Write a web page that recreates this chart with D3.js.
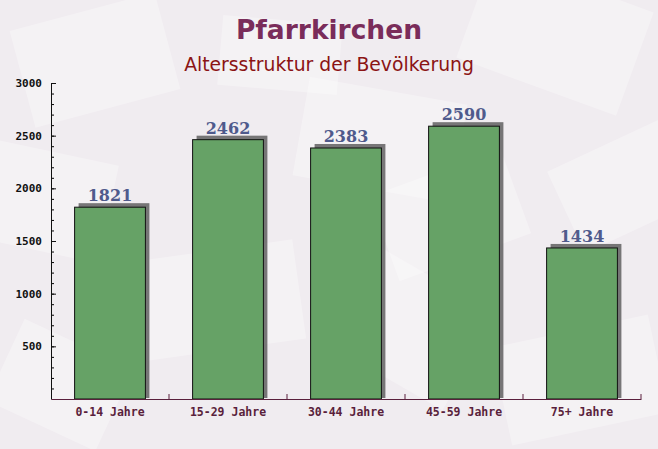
<!DOCTYPE html>
<html>
<head>
<meta charset="utf-8">
<script src="https://cdn.jsdelivr.net/npm/d3@7"></script>
<style>
  body { margin: 0; padding: 0; }
  #chart svg { display: block; }
</style>
</head>
<body>
<div id="chart"></div>
<script>
var width = 658;
var height = 449;

// data
var categories = ["0-14 Jahre", "15-29 Jahre", "30-44 Jahre", "45-59 Jahre", "75+ Jahre"];
var values = [1821, 2462, 2383, 2590, 1434];
var yTicks = [500, 1000, 1500, 2000, 2500, 3000];

var margin = {left: 51, right: 17, top: 83, bottom: 50};

var svg = d3.select('#chart')
  .append("svg")
  .attr("width", width)
  .attr("height", height);

// background
svg.append("rect")
  .attr("width", width)
  .attr("height", height)
  .attr("fill", "#f0ecf0");

// faint envelope-like watermark shapes
var deco = [
  [20, 10, 150, 100, -15], [470, -20, 170, 110, 20], [300, 90, 160, 100, 10],
  [560, 140, 130, 90, -25], [-30, 150, 140, 100, 12], [140, 250, 160, 100, -8],
  [330, 270, 150, 110, 30], [500, 330, 160, 100, -12], [0, 340, 120, 90, 25],
  [220, 20, 120, 70, 5], [380, 170, 140, 90, -20]
];
svg.append("g").selectAll("rect")
  .data(deco)
  .enter().append("rect")
  .attr("x", function(d) { return d[0]; })
  .attr("y", function(d) { return d[1]; })
  .attr("width", function(d) { return d[2]; })
  .attr("height", function(d) { return d[3]; })
  .attr("transform", function(d) { return "rotate(" + d[4] + "," + (d[0] + d[2]/2) + "," + (d[1] + d[3]/2) + ")"; })
  .attr("fill", "#ffffff")
  .attr("opacity", 0.3);

// titles
svg.append("text")
  .attr("x", 329).attr("y", 39)
  .attr("text-anchor", "middle")
  .style("font-family", "DejaVu Sans")
  .style("font-weight", "bold")
  .style("font-size", "26.5px")
  .attr("fill", "#7a2c5a")
  .text("Pfarrkirchen");

svg.append("text")
  .attr("x", 329).attr("y", 71)
  .attr("text-anchor", "middle")
  .style("font-family", "DejaVu Sans")
  .style("font-size", "18.8px")
  .attr("fill", "#8b1414")
  .text("Altersstruktur der Bevölkerung");

// scales
var xScale = d3.scaleBand()
  .domain(categories)
  .range([margin.left, width - margin.right])
  .paddingInner(0)
  .paddingOuter(0);

var yScale = d3.scaleLinear()
  .domain([0, 3000])
  .range([height - margin.bottom, margin.top]);

var barW = xScale.bandwidth() * 0.6;

// bars with shadow
var bars = svg.append("g");
bars.selectAll(".shadow")
  .data(values)
  .enter().append("rect")
  .attr("class", "shadow")
  .attr("x", function(d, i) { return xScale(categories[i]) + (xScale.bandwidth() - barW) / 2 + 4; })
  .attr("y", function(d) { return yScale(d) - 4; })
  .attr("width", barW)
  .attr("height", function(d) { return yScale(0) - yScale(d) + 4 - 1; })
  .attr("fill", "#606060")
  .attr("opacity", 0.85);

bars.selectAll(".bar")
  .data(values)
  .enter().append("rect")
  .attr("class", "bar")
  .attr("x", function(d, i) { return xScale(categories[i]) + (xScale.bandwidth() - barW) / 2; })
  .attr("y", function(d) { return yScale(d); })
  .attr("width", barW)
  .attr("height", function(d) { return yScale(0) - yScale(d); })
  .attr("fill", "#66a266")
  .attr("stroke", "#111")
  .attr("stroke-width", 1);

// value labels
bars.selectAll(".val")
  .data(values)
  .enter().append("text")
  .attr("x", function(d, i) { return xScale(categories[i]) + xScale.bandwidth() / 2; })
  .attr("y", function(d) { return yScale(d) - 6; })
  .attr("text-anchor", "middle")
  .style("font-family", "DejaVu Serif")
  .style("font-weight", "bold")
  .style("font-size", "16px")
  .attr("fill", "#4f5a8c")
  .text(function(d) { return d; });

// y axis
var yMinor = svg.append("g")
  .attr("transform", "translate(" + margin.left + ",0)")
  .call(d3.axisRight(yScale).tickValues(d3.range(100, 3001, 100)).tickSize(3).tickFormat(""));
yMinor.select(".domain").remove();

var yAxis = svg.append("g")
  .attr("transform", "translate(" + margin.left + ",0)")
  .call(d3.axisLeft(yScale).tickValues(yTicks).tickSize(0).tickPadding(9).tickFormat(d3.format("d")));
yAxis.selectAll(".tick text")
  .style("font-family", "DejaVu Sans Mono")
  .style("font-weight", "bold")
  .style("font-size", "11px")
  .attr("fill", "#111");
yAxis.select(".domain").attr("stroke", "#111");
yAxis.selectAll(".tick").append("line")
  .attr("x1", 0).attr("x2", 5)
  .attr("stroke", "#111");

// x axis
var xAxis = svg.append("g")
  .attr("transform", "translate(0," + yScale(0) + ")")
  .call(d3.axisBottom(xScale).tickSize(0).tickPadding(9));
xAxis.select(".domain").attr("stroke", "#5a1f3c");
xAxis.selectAll(".tick text")
  .style("font-family", "DejaVu Sans Mono")
  .style("font-weight", "bold")
  .style("font-size", "11.5px")
  .attr("fill", "#5a1f3c");

// band boundary ticks
svg.append("g").selectAll("line")
  .data(categories)
  .enter().append("line")
  .attr("x1", function(d) { return xScale(d) + xScale.bandwidth(); })
  .attr("x2", function(d) { return xScale(d) + xScale.bandwidth(); })
  .attr("y1", yScale(0))
  .attr("y2", yScale(0) - 5)
  .attr("stroke", "#5a1f3c");
</script>
</body>
</html>
